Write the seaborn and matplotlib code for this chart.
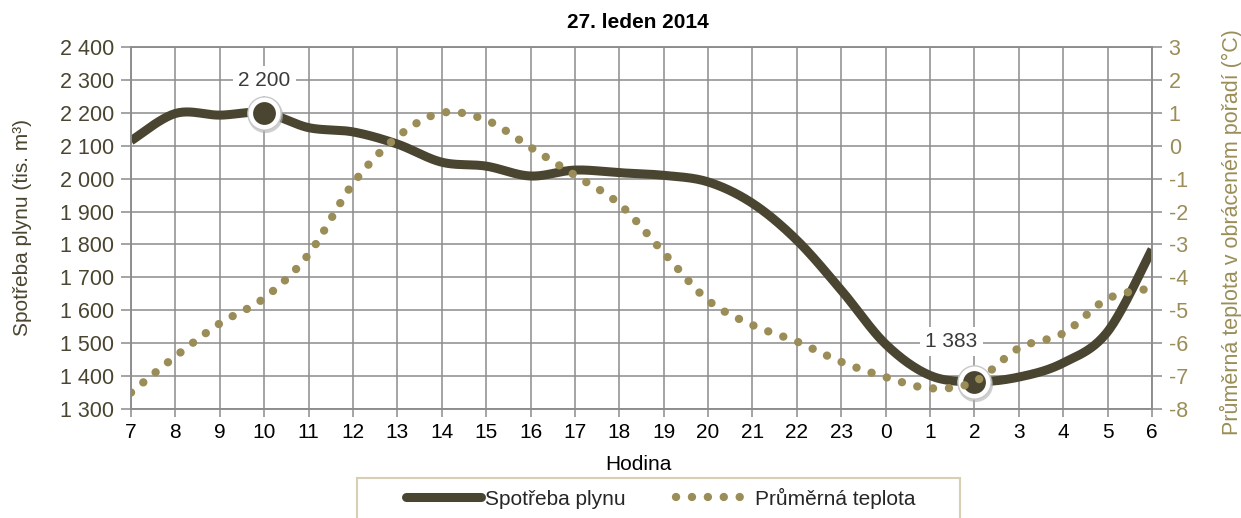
import numpy as np
import seaborn as sns
import matplotlib.pyplot as plt
from matplotlib.lines import Line2D
from matplotlib.patches import Rectangle
from matplotlib.ticker import FuncFormatter, MultipleLocator

# Hour labels along the x axis (7:00 on the 27th to 6:00 next morning)
hours = ["7", "8", "9", "10", "11", "12", "13", "14", "15", "16", "17",
         "18", "19", "20", "21", "22", "23", "0", "1", "2", "3", "4", "5",
         "6"]

# Gas consumption (tis. m3)
gas = [2115, 2198, 2193, 2200, 2155, 2142, 2105, 2050, 2038, 2008, 2026,
       2018, 2010, 1990, 1925, 1813, 1661, 1497, 1402, 1383, 1397, 1440,
       1535, 1785]

# Average temperature (deg C, right axis)
temp = [-7.5, -6.4, -5.4, -4.63, -3.3, -1.15, 0.27, 1.0, 0.78, -0.05, -0.9,
        -1.77, -3.25, -4.7, -5.45, -5.95, -6.57, -7.03, -7.37, -7.17, -6.15,
        -5.7, -4.65, -4.33]

# Highlighted points (index into hours)
highlight_idx = [3, 19]
highlight_txt = ["2 200", "1 383"]

GAS_COLOR = "#4a4530"
TEMP_COLOR = "#9a8d57"
GRID_COLOR = "#8c8c8c"
DOTS = (0, (0.01, 1.9))


def smooth(x, y, n=24):
    """Excel-like smoothed line (Catmull-Rom bezier) through the points."""
    x = np.asarray(x, float)
    y = np.asarray(y, float)
    pts = np.column_stack([x, y])
    out = []
    t = np.linspace(0, 1, n, endpoint=False)[:, None]
    for i in range(len(pts) - 1):
        p0 = pts[max(i - 1, 0)]
        p1 = pts[i]
        p2 = pts[i + 1]
        p3 = pts[min(i + 2, len(pts) - 1)]
        c1 = p1 + (p2 - p0) / 6
        c2 = p2 - (p3 - p1) / 6
        seg = ((1 - t) ** 3 * p1 + 3 * (1 - t) ** 2 * t * c1
               + 3 * (1 - t) * t ** 2 * c2 + t ** 3 * p2)
        out.append(seg)
    out.append(pts[-1:])
    out = np.vstack(out)
    return out[:, 0], out[:, 1]


def main():
    sns.set_style("white")
    plt.rcParams["font.family"] = ["Liberation Sans", "DejaVu Sans"]
    plt.rcParams["axes.unicode_minus"] = False

    fig = plt.figure(figsize=(12.41, 5.18), dpi=100)
    ax = fig.add_axes([131 / 1241, 1 - 409 / 518, 1021 / 1241, 362 / 518])
    ax2 = ax.twinx()

    x = np.arange(len(hours))

    # Gas consumption line
    gx, gy = smooth(x, gas)
    sns.lineplot(x=gx, y=gy, ax=ax, color=GAS_COLOR, linewidth=6.5,
                 sort=False, estimator=None, solid_capstyle="butt")

    # Highlight markers with labels
    for i in highlight_idx:
        ax.scatter(x[i] + 0.02, gas[i] - 6, s=640, color="#b0b0b0",
                   alpha=0.6, zorder=4, linewidths=0)
        ax.scatter(x[i], gas[i], s=570, color="white", edgecolor="#c8c8c8",
                   linewidths=1.0, zorder=5)
        ax.scatter(x[i], gas[i], s=270, color=GAS_COLOR, zorder=6,
                   linewidths=0)
    ax.annotate(highlight_txt[0], (x[highlight_idx[0]], gas[highlight_idx[0]]),
                xytext=(0, 32), textcoords="offset pixels", ha="center",
                va="center", fontsize=15, color="#3a3a3a", zorder=7,
                bbox=dict(boxstyle="square,pad=0.25", fc="white", ec="none"))
    ax.annotate(highlight_txt[1], (x[highlight_idx[1]], gas[highlight_idx[1]]),
                xytext=(-23, 40), textcoords="offset pixels", ha="center",
                va="center", fontsize=15, color="#3a3a3a", zorder=7,
                bbox=dict(boxstyle="square,pad=0.25", fc="white", ec="none"))

    # Temperature dotted line (right axis)
    tx, ty = smooth(x, temp)
    sns.lineplot(x=tx, y=ty, ax=ax2, color=TEMP_COLOR, linewidth=6.0,
                 sort=False, estimator=None, linestyle=DOTS,
                 dash_capstyle="round")

    # Axes limits, ticks and grid
    ax.set_xlim(0, len(hours) - 1)
    ax.set_ylim(1300, 2400)
    ax2.set_ylim(-8, 3)
    ax.set_xticks(x)
    ax.set_xticklabels(hours)
    ax.yaxis.set_major_locator(MultipleLocator(100))
    ax.yaxis.set_major_formatter(
        FuncFormatter(lambda v, p: f"{int(v):,}".replace(",", " ")))
    ax2.yaxis.set_major_locator(MultipleLocator(1))

    ax.grid(True, color=GRID_COLOR, linewidth=1.1)
    ax.set_axisbelow(True)
    for a in (ax, ax2):
        for s in a.spines.values():
            s.set_color(GRID_COLOR)
            s.set_linewidth(1.1)
    ax.tick_params(axis="x", direction="out", length=6, width=1.1,
                   color=GRID_COLOR, labelsize=15, labelcolor="black", pad=4,
                   bottom=True)
    ax.tick_params(axis="y", direction="out", length=7, width=1.1,
                   color=GRID_COLOR, labelsize=15.5, labelcolor=GAS_COLOR,
                   pad=5, left=True)
    ax2.tick_params(axis="y", direction="out", length=7, width=1.1,
                    color=GRID_COLOR, labelsize=15.5, labelcolor=TEMP_COLOR,
                    pad=5, right=True)
    ax.set_xlabel("")
    ax.set_ylabel("")
    ax2.set_ylabel("")

    # Titles and axis labels
    fig.text(638 / 1241, 1 - 22 / 518, "27. leden 2014", ha="center",
             va="center", fontsize=15, fontweight="bold", color="black")
    fig.text(638 / 1241, 1 - 465 / 518, "Hodina", ha="center", va="center",
             fontsize=15, color="black")
    fig.text(23 / 1241, 1 - 228 / 518, "Spotřeba plynu (tis. m³)",
             rotation=90, ha="center", va="center", fontsize=15,
             color=GAS_COLOR)
    fig.text(1231 / 1241, 1 - 232 / 518,
             "Průměrná teplota v obráceném pořadí (°C)", rotation=90,
             ha="center", va="center", fontsize=15.5, color=TEMP_COLOR)

    # Legend box (cut off at the bottom like the original)
    fig.patches.append(Rectangle((357 / 1241, -0.05), 603 / 1241,
                                 0.05 + 1 - 478 / 518,
                                 transform=fig.transFigure, fill=False,
                                 edgecolor="#d6cfb3", linewidth=1.5))
    handles = [
        Line2D([], [], color=GAS_COLOR, linewidth=6.5,
               solid_capstyle="round"),
        Line2D([], [], color=TEMP_COLOR, linewidth=6.0, linestyle=DOTS,
               dash_capstyle="round"),
    ]
    fig.legend(handles, ["Spotřeba plynu", "Průměrná teplota"],
               loc="center", bbox_to_anchor=(661 / 1241, 1 - 498 / 518),
               ncol=2, frameon=False, fontsize=15, handlelength=3.6,
               handletextpad=0.2, columnspacing=2.4)

    fig.savefig("out.png", dpi=100)


if __name__ == "__main__":
    main()
